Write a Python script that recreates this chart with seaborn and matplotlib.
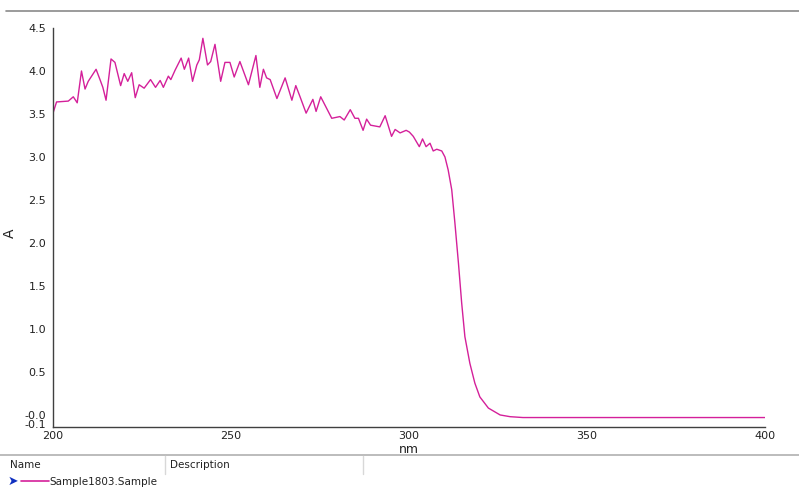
import matplotlib
matplotlib.use("Agg")
import matplotlib.pyplot as plt
from matplotlib.lines import Line2D
import seaborn as sns
import pandas as pd

wavelength_nm = [
    200.0, 201.0, 204.3, 205.7, 206.8, 208.0, 209.0, 209.9, 212.1, 213.2,
    214.0, 214.9, 216.3, 217.4, 219.0, 220.0, 221.0, 222.1, 223.1, 224.2,
    225.6, 227.4, 228.8, 230.1, 231.0, 232.4, 233.1, 234.3, 236.0, 236.9,
    238.1, 239.2, 240.4, 241.1, 242.1, 243.4, 244.3, 245.5, 247.1, 248.3,
    249.7, 250.9, 252.5, 254.9, 257.0, 258.1, 259.1, 260.0, 261.0, 262.9,
    265.2, 267.1, 268.2, 269.4, 271.1, 273.0, 273.9, 275.2, 278.3, 280.6,
    281.8, 283.5, 284.8, 285.8, 287.1, 288.1, 289.2, 291.8, 293.3, 295.1,
    296.1, 297.5, 299.2, 300.1, 301.2, 302.9, 303.8, 304.8, 305.9, 306.8,
    307.8, 309.2, 310.1, 311.0, 312.0, 312.9, 313.9, 314.8, 315.7, 317.1,
    318.5, 319.9, 322.3, 325.6, 328.4, 332.0, 400.0,
]
absorbance = [
    3.51, 3.64, 3.65, 3.70, 3.63, 4.00, 3.79, 3.88, 4.02, 3.90,
    3.81, 3.66, 4.14, 4.10, 3.83, 3.97, 3.88, 3.98, 3.69, 3.84,
    3.80, 3.90, 3.81, 3.89, 3.81, 3.94, 3.90, 4.01, 4.15, 4.02,
    4.15, 3.88, 4.07, 4.13, 4.38, 4.07, 4.11, 4.31, 3.88, 4.10,
    4.10, 3.93, 4.11, 3.84, 4.18, 3.81, 4.02, 3.92, 3.90, 3.68,
    3.92, 3.66, 3.83, 3.70, 3.51, 3.67, 3.53, 3.70, 3.45, 3.47,
    3.43, 3.55, 3.45, 3.45, 3.31, 3.44, 3.37, 3.35, 3.48, 3.24,
    3.32, 3.28, 3.31, 3.29, 3.24, 3.12, 3.21, 3.12, 3.16, 3.07,
    3.09, 3.07, 3.00, 2.85, 2.62, 2.23, 1.76, 1.30, 0.91, 0.60,
    0.37, 0.21, 0.08, 0.00, -0.02, -0.03, -0.03,
]
x_ticks = [200, 250, 300, 350, 400]
x_tick_labels = ["200", "250", "300", "350", "400"]
y_ticks = [4.5, 4.0, 3.5, 3.0, 2.5, 2.0, 1.5, 1.0, 0.5, 0.0, -0.1]
y_tick_labels = ["4.5", "4.0", "3.5", "3.0", "2.5", "2.0", "1.5", "1.0", "0.5", "-0.0", "-0.1"]
series_name = "Sample1803.Sample"

df = pd.DataFrame({"nm": wavelength_nm, "A": absorbance})

sns.set_style("white")
plt.rcParams["font.family"] = ["DejaVu Sans"]

W, H = 799, 487
fig = plt.figure(figsize=(W / 100, H / 100), dpi=100)
ax = fig.add_axes([53 / W, 1 - 427 / H, (765 - 53) / W, (427 - 28) / H])

line_color = "#d4209a"
sns.lineplot(data=df, x="nm", y="A", ax=ax, color=line_color, linewidth=1.0,
             sort=False, estimator=None)

ax.set_xlim(200, 400)
ax.set_ylim(-0.14, 4.5)
ax.set_xticks(x_ticks)
ax.set_xticklabels(x_tick_labels)
ax.set_yticks(y_ticks)
ax.set_yticklabels(y_tick_labels)
for s in ["top", "right"]:
    ax.spines[s].set_visible(False)
for s in ["left", "bottom"]:
    ax.spines[s].set_color("#404040")
    ax.spines[s].set_linewidth(1.0)
ax.tick_params(axis="both", direction="out", length=4, width=0.8,
               colors="#404040", labelcolor="#222222", labelsize=8, pad=1)
ax.tick_params(axis="x", length=3, pad=0)
ax.set_xlabel("nm", fontsize=9, color="#222222")
ax.set_ylabel("A", fontsize=10, color="#222222")
ax.xaxis.set_label_coords((409 - 53) / (765 - 53), -0.04)
ax.yaxis.set_label_coords((17 - 53) / (765 - 53), (427 - 233) / (427 - 28))
ax.grid(False)

def hline(y, x0, x1, color="#a0a0a0", lw=1.2):
    fig.add_artist(Line2D([x0 / W, x1 / W], [1 - y / H, 1 - y / H],
                          color=color, linewidth=lw, transform=fig.transFigure))

def vline(x, y0, y1, color="#d8d8d8", lw=1.0):
    fig.add_artist(Line2D([x / W, x / W], [1 - y0 / H, 1 - y1 / H],
                          color=color, linewidth=lw, transform=fig.transFigure))

hline(11, 6, 799, color="#8a8a8a")
hline(455, 0, 799, color="#b0b0b0")
vline(165, 456, 474)
vline(363, 456, 474)

fig.text(10 / W, 1 - 465 / H, "Name", fontsize=7.5, color="#222222", va="center", ha="left")
fig.text(170 / W, 1 - 465 / H, "Description", fontsize=7.5, color="#222222", va="center", ha="left")
fig.text(49 / W, 1 - 482 / H, series_name, fontsize=7.5, color="#222222", va="center", ha="left")
fig.text(8 / W, 1 - 481 / H, "\u27a4", fontsize=9, color="#1030c0", va="center", ha="left")
hline(481, 21, 49, color=line_color, lw=1.2)

fig.savefig("out.png", dpi=100)
